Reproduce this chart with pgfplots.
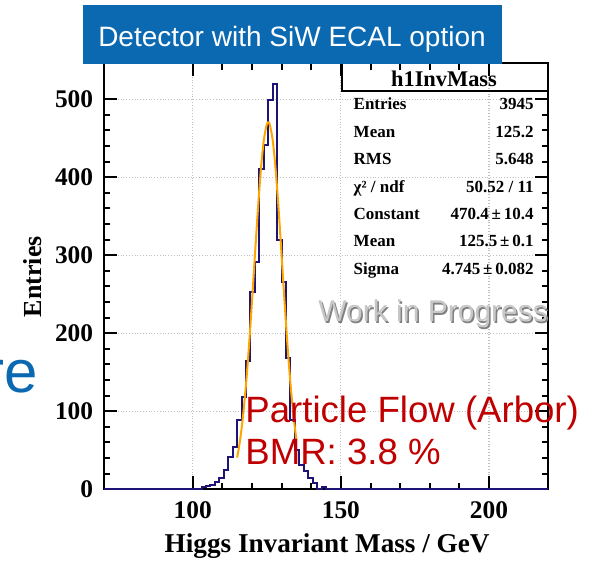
\documentclass[border=0pt]{standalone}
\usepackage{fontspec}
\setmainfont{Liberation Serif}
\setsansfont{Liberation Sans}
\usepackage{pgfplots}
\pgfplotsset{compat=1.18}
\definecolor{banner}{RGB}{11,105,178}
\definecolor{histc}{RGB}{30,20,120}
\definecolor{fitc}{RGB}{255,165,0}
\definecolor{redtxt}{RGB}{192,0,0}
\begin{document}
\begin{tikzpicture}
\useasboundingbox (0,0) rectangle (300pt,280.5pt);
\begin{axis}[
  at={(51.9pt,35.85pt)}, anchor=south west,
  scale only axis, width=222.25pt, height=212.95pt,
  xmin=70, xmax=220, ymin=0, ymax=546,
  xtick={100,150,200}, minor x tick num=4,
  ytick={0,100,200,300,400,500}, minor y tick num=4,
  tick align=inside,
  major tick length=6.5pt, minor tick length=3.3pt,
  grid=major,
  major grid style={densely dotted, black!25, line width=0.6pt},
  axis line style={line width=1pt},
  every tick/.style={black, line width=1pt},
  /pgf/number format/assume math mode=true,
  tick label style={font=\fontsize{12.7}{14}\selectfont\bfseries},
  xticklabel style={yshift=-2.8pt},
  yticklabel style={xshift=-1.8pt},
]
\addplot[const plot mark left, histc, line width=1pt] coordinates {
(70,0) (101.5,1) (103,3) (104.5,4) (106,6) (107.5,9) (109,15) (110.5,25)
(112,42) (113.5,54) (115,89) (116.5,118) (118,164) (119.5,253) (121,292)
(122.5,411) (124,441) (125.5,499) (127,520) (128.5,320) (130,266)
(131.5,168) (133,89) (134.5,50) (136,31) (137.5,23) (139,14) (140.5,8)
(142,0) (143.5,3) (145,0) (220,0)
};
\addplot[fitc, line width=1pt, smooth] coordinates {
(115,40.6) (116,63.4) (117,94.6) (118,134.9) (119,184.1) (120,240.3)
(121,300.0) (122,358.4) (123,409.4) (124,447.5) (125,467.8) (125.5,470.4)
(126,467.8) (127,447.5) (128,409.4) (129,358.4) (130,300.0) (131,240.3)
(132,184.1) (133,134.9) (134,94.6) (135,63.4)
};
\end{axis}
\begin{scope}[x=0.5pt,y=-0.5pt,yshift=280.5pt]
  % banner
  \fill[banner] (82.7,5) rectangle (501.7,64.5);
  \node[anchor=base, text=white, font=\sffamily\fontsize{14}{16}\selectfont] at (292,46.7) {Detector with SiW ECAL option};
  % cut-off word on the left
  \node[anchor=base east, inner sep=0pt, text=banner, font=\sffamily\fontsize{30}{34}\selectfont] at (38,393) {re};
  % stats box
  \draw[line width=1pt] (341.7,64.5) -- (341.7,90.7) -- (548,90.7);
  \node[anchor=base, inner sep=0pt, font=\fontsize{11.2}{13}\selectfont\bfseries] at (444,86.5) {h1InvMass};
  \begin{scope}[every node/.style={inner sep=0pt, font=\fontsize{8.5}{10}\selectfont\bfseries}]
    \node[anchor=base west] at (353.3,110) {Entries};
    \node[anchor=base east] at (534,110) {3945};
    \node[anchor=base west] at (353.3,137.4) {Mean};
    \node[anchor=base east] at (534,137.4) {125.2};
    \node[anchor=base west] at (353.3,164.8) {RMS};
    \node[anchor=base east] at (534,164.8) {5.648};
    \node[anchor=base west] at (353.3,192.2) {χ² / ndf};
    \node[anchor=base east] at (534,192.2) {50.52 / 11};
    \node[anchor=base west] at (353.3,219.6) {Constant};
    \node[anchor=base east] at (534,219.6) {470.4\,±\,10.4};
    \node[anchor=base west] at (353.3,247) {Mean};
    \node[anchor=base east] at (534,247) {125.5\,±\,0.1};
    \node[anchor=base west] at (353.3,274.4) {Sigma};
    \node[anchor=base east] at (534,274.4) {4.745\,±\,0.082};
  \end{scope}
  % work in progress
  \node[anchor=base west, inner sep=0pt, text=black!50, font=\sffamily\fontsize{15}{17}\selectfont] at (319.5,323.5) {Work in Progress};
  \node[anchor=base west, inner sep=0pt, text=black!22, font=\sffamily\fontsize{15}{17}\selectfont] at (318,322) {Work in Progress};
  % red annotation
  \node[anchor=base west, inner sep=0pt, text=redtxt, font=\sffamily\fontsize{18.3}{20}\selectfont] at (245,422.7) {Particle Flow (Arbor)};
  \node[anchor=base west, inner sep=0pt, text=redtxt, font=\sffamily\fontsize{18.3}{20}\selectfont] at (245,465) {BMR: 3.8 \%};
  % axis titles
  \node[anchor=base, inner sep=0pt, rotate=90, font=\fontsize{13}{15}\selectfont\bfseries] at (41.7,276.7) {Entries};
  \node[anchor=base east, inner sep=0pt, font=\fontsize{13.6}{15}\selectfont\bfseries] at (490,553) {Higgs Invariant Mass / GeV};
\end{scope}
\end{tikzpicture}
\end{document}
